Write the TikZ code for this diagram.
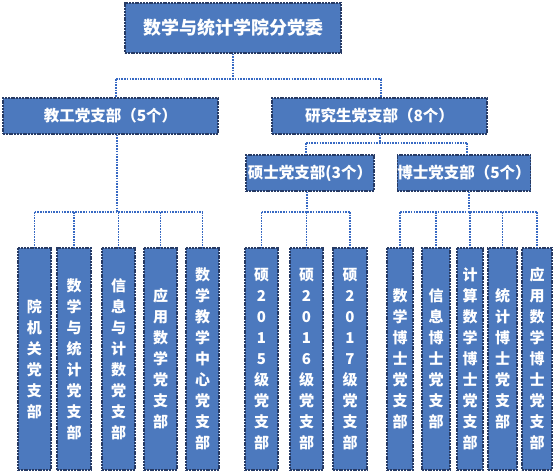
\documentclass[tikz,border=0pt]{standalone}
\usepackage{fontspec}
\setmainfont{Noto Sans CJK SC}
\definecolor{boxfill}{RGB}{76,121,190}
\definecolor{boxline}{RGB}{38,58,100}
\definecolor{connline}{RGB}{55,105,195}
\tikzset{
  orgbox/.style={draw=boxline, fill=boxfill, line width=1.3pt, dash pattern=on 2pt off 0.8pt,
    text=white, inner sep=0pt, align=center},
  topbox/.style={orgbox, minimum width=216pt, minimum height=50pt, font=\fontsize{18pt}{20pt}\selectfont\bfseries},
  midbox/.style={orgbox, minimum height=36pt, font=\fontsize{15.5pt}{18pt}\selectfont\bfseries},
  tallbox/.style={orgbox, minimum height=222pt, font=\fontsize{15pt}{21pt}\selectfont\bfseries},
  conn/.style={draw=connline, line width=1.1pt, dash pattern=on 1.6pt off 1.1pt},
}
\begin{document}
\begin{tikzpicture}[x=1pt,y=-1pt]
\useasboundingbox (0,0) rectangle (554,473);
% boxes
\node[topbox] (top) at (233,28) {数学与统计学院分党委};
\node[midbox, minimum width=215pt] (jg) at (110.5,116) {教工党支部（5个）};
\node[midbox, minimum width=215pt] (yjs) at (379.5,116) {研究生党支部（8个）};
\node[midbox, minimum width=128pt] (ss) at (310,173) {硕士党支部(3个）};
\node[midbox, minimum width=130pt] (bs) at (464,173) {博士党支部（5个）};
% tall boxes
\node[tallbox, minimum width=33pt] (b1) at (34.5,359) {院\\机\\关\\党\\支\\部};
\node[tallbox, minimum width=34pt] (b2) at (74,359) {数\\学\\与\\统\\计\\党\\支\\部};
\node[tallbox, minimum width=33pt] (b3) at (118.5,359) {信\\息\\与\\计\\数\\党\\支\\部};
\node[tallbox, minimum width=33pt] (b4) at (160.5,359) {应\\用\\数\\学\\党\\支\\部};
\node[tallbox, minimum width=33pt] (b5) at (202.5,359) {数\\学\\教\\学\\中\\心\\党\\支\\部};
\node[tallbox, minimum width=33pt] (b6) at (261.5,359) {硕\\2\\0\\1\\5\\级\\党\\支\\部};
\node[tallbox, minimum width=33pt] (b7) at (306.5,359) {硕\\2\\0\\1\\6\\级\\党\\支\\部};
\node[tallbox, minimum width=34pt] (b8) at (350,359) {硕\\2\\0\\1\\7\\级\\党\\支\\部};
\node[tallbox, minimum width=26pt] (b9) at (400,359) {数\\学\\博\\士\\党\\支\\部};
\node[tallbox, minimum width=28pt] (b10) at (436,359) {信\\息\\博\\士\\党\\支\\部};
\node[tallbox, minimum width=26pt] (b11) at (470,359) {计\\算\\数\\学\\博\\士\\党\\支\\部};
\node[tallbox, minimum width=29pt] (b12) at (502.5,359) {统\\计\\博\\士\\党\\支\\部};
\node[tallbox, minimum width=30pt] (b13) at (537,359) {应\\用\\数\\学\\博\\士\\党\\支\\部};
% bus levels
\coordinate (bus0) at (0,79);
\coordinate (bus1) at (0,143);
\coordinate (bus2) at (0,212);
% top -> level 2
\draw[conn] (top.south) -- (top.south |- bus0);
\draw[conn] ([xshift=5.5pt]jg.north |- bus0) -- ([xshift=1.5pt]yjs.north |- bus0);
\draw[conn] ([xshift=5.5pt]jg.north |- bus0) -- ([xshift=5.5pt]jg.north);
\draw[conn] ([xshift=1.5pt]yjs.north |- bus0) -- ([xshift=1.5pt]yjs.north);
% jg -> b1..b5
\draw[conn] ([xshift=6.5pt]jg.south) -- ([xshift=6.5pt]jg.south |- bus2);
\draw[conn] (b1.north |- bus2) -- (b5.north |- bus2);
\foreach \b in {b1,b2,b3,b4,b5} \draw[conn] (\b.north |- bus2) -- (\b.north);
% yjs -> ss, bs
\draw[conn] ([xshift=0.5pt]yjs.south) -- ([xshift=0.5pt]yjs.south |- bus1);
\draw[conn] ([xshift=-4pt]ss.north |- bus1) -- ([xshift=3pt]bs.north |- bus1);
\draw[conn] ([xshift=-4pt]ss.north |- bus1) -- ([xshift=-4pt]ss.north);
\draw[conn] ([xshift=3pt]bs.north |- bus1) -- ([xshift=3pt]bs.north);
% ss -> b6..b8
\draw[conn] ([xshift=-3pt]ss.south) -- ([xshift=-3pt]ss.south |- bus2);
\draw[conn] (b6.north |- bus2) -- (b8.north |- bus2);
\foreach \b in {b6,b7,b8} \draw[conn] (\b.north |- bus2) -- (\b.north);
% bs -> b9..b13
\draw[conn] ([xshift=5pt]bs.south) -- ([xshift=5pt]bs.south |- bus2);
\draw[conn] (b9.north |- bus2) -- (b13.north |- bus2);
\foreach \b in {b9,b10,b11,b12,b13} \draw[conn] (\b.north |- bus2) -- (\b.north);
\end{tikzpicture}
\end{document}
